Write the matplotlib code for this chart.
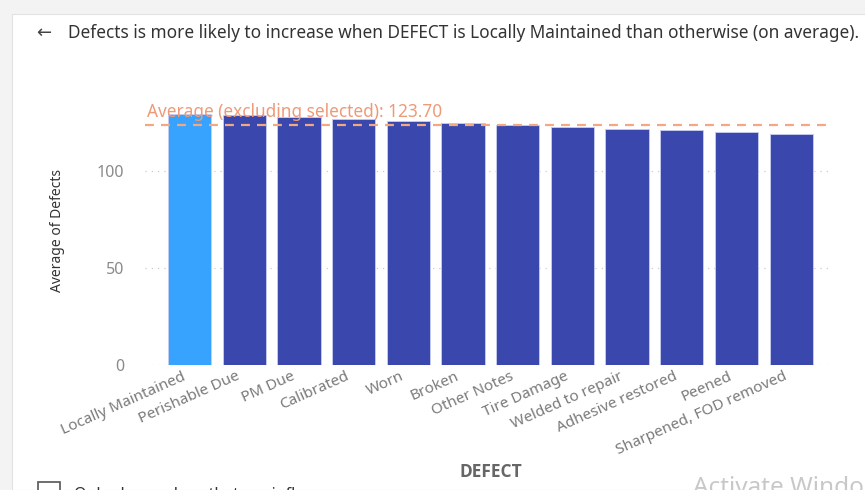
import matplotlib
matplotlib.use("Agg")
import matplotlib.pyplot as plt
import matplotlib.transforms as mtransforms
from matplotlib.patches import Rectangle

# values
categories = ["Locally Maintained", "Perishable Due", "PM Due", "Calibrated", "Worn",
              "Broken", "Other Notes", "Tire Damage", "Welded to repair",
              "Adhesive restored", "Peened", "Sharpened, FOD removed"]
avg_defects = [129.4, 128.9, 128.0, 126.6, 125.8, 124.8, 123.8, 122.8, 121.8, 121.0, 119.9, 118.8]
selected = "Locally Maintained"
avg_excl = 123.70
y_ticks = [0, 50, 100]

plt.rcParams["font.family"] = ["Noto Sans", "DejaVu Sans"]

W, H = 865, 490
fig = plt.figure(figsize=(W / 100, H / 100), dpi=100)
fig.patch.set_facecolor("#f3f3f3")

# white card
fig.add_artist(Rectangle((12 / W, 0), 1, 1 - 14 / H, transform=fig.transFigure,
                         facecolor="white", edgecolor="#e2e2e2", linewidth=0.8, zorder=0))

ax = fig.add_axes([145 / W, (H - 365) / H, 685 / W, 260 / H])
ax.set_facecolor("white")

colors = ["#37a3ff" if c == selected else "#3a48ae" for c in categories]
x = range(len(categories))
ax.bar(x, avg_defects, width=0.79, color=colors, edgecolor="#c9cdf0", linewidth=0.6, zorder=2)

ax.axhline(avg_excl, color="#f2a982", linestyle=(0, (4, 3.2)), linewidth=1.6, zorder=3)
ax.text(-0.78, avg_excl + 2.0, f"Average (excluding selected): {avg_excl:.2f}",
        color="#ee9a78", fontsize=12.4, va="bottom", ha="left", zorder=4)

ax.set_xlim(-0.815, 11.71)
ax.set_ylim(0, 134)
ax.set_yticks(y_ticks)
ax.yaxis.grid(True, color="#cccccc", linestyle=(0, (1, 4)), linewidth=0.9)
ax.set_axisbelow(True)
for s in ax.spines.values():
    s.set_visible(False)
ax.tick_params(axis="both", length=0, colors="#8a8a8a", labelsize=11.5)
ax.tick_params(axis="y", pad=15)
ax.set_xticks(list(x))
ax.set_xticklabels(categories, rotation=24, ha="right", rotation_mode="anchor",
                   color="#7a7a7a", fontsize=11)
ax.tick_params(axis="x", pad=3)
shift = mtransforms.ScaledTranslation(-8 / 100, 0, fig.dpi_scale_trans)
for lbl in ax.get_xticklabels():
    lbl.set_transform(lbl.get_transform() + shift)

fig.text(58 / W, 1 - 231 / H, "Average of Defects", rotation=90, ha="center", va="center",
         fontsize=10, color="#333333")
fig.text(491 / W, 1 - 472 / H, "DEFECT", ha="center", va="center", fontsize=12.5,
         fontweight="bold", color="#666666", family=["Open Sans", "DejaVu Sans"])

# header
fig.text(36 / W, 1 - 33 / H, "\u2190", ha="left", va="center", fontsize=13, color="#444444",
         family="DejaVu Sans")
fig.text(68 / W, 1 - 33 / H,
         "Defects is more likely to increase when DEFECT is Locally Maintained than otherwise (on average).",
         ha="left", va="center", fontsize=12.4, color="#333333")

# footer (partly cut off, as in the screenshot)
fig.add_artist(Rectangle((38 / W, 1 - 496 / H), 22 / W, 14 / H, transform=fig.transFigure,
                         facecolor="white", edgecolor="#555555", linewidth=1.2))
fig.text(74 / W, 1 - 495 / H, "Only show values that are influencers", ha="left", va="center",
         fontsize=11.5, color="#333333")
fig.text(693 / W, 1 - 476 / H, "Activate Windo", ha="left", va="top",
         fontsize=17.5, color="#c8c8c8")

fig.savefig("out.png", dpi=100, facecolor=fig.get_facecolor())
